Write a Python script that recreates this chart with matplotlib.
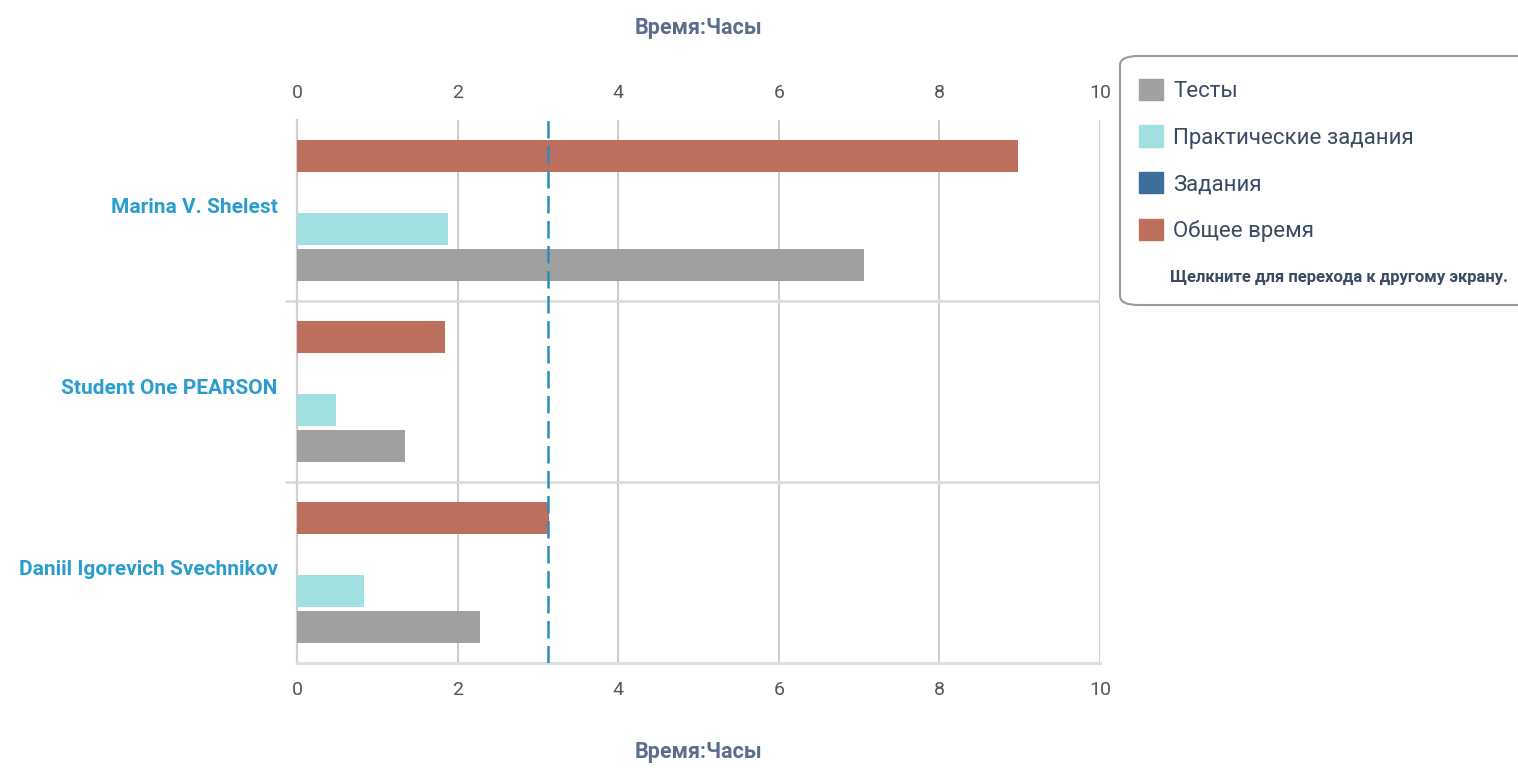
import matplotlib
matplotlib.use("Agg")
import matplotlib.pyplot as plt
import matplotlib.transforms as mtransforms
from matplotlib.patches import Patch, FancyBboxPatch
import numpy as np

plt.rcParams['font.family'] = ['Roboto', 'DejaVu Sans']

students = ["Marina V. Shelest", "Student One PEARSON", "Daniil Igorevich Svechnikov"]
series_names = ["Тесты", "Практические задания", "Задания", "Общее время"]
tests = [7.06, 1.35, 2.28]
practice = [1.88, 0.48, 0.83]
tasks = [0.0, 0.0, 0.0]
total = [8.98, 1.84, 3.14]
reference_line = 3.12
x_ticks = [0, 2, 4, 6, 8, 10]
axis_title = "Время:Часы"
note = "Щелкните для перехода к другому экрану."

colors = {"Тесты": "#a0a0a0", "Практические задания": "#a0e0e0",
          "Задания": "#3d6e99", "Общее время": "#bc6f5c"}
offsets = {"Общее время": -0.3, "Задания": -0.1, "Практические задания": 0.1, "Тесты": 0.3}
values = {"Тесты": tests, "Практические задания": practice, "Задания": tasks, "Общее время": total}

W, H = 1518, 768
fig = plt.figure(figsize=(W / 100, H / 100), dpi=100)
ax = fig.add_axes([297 / W, 1 - 663 / H, (1100 - 297) / W, (663 - 120) / H])

y = np.arange(len(students))
bar_h = 0.177
for name in series_names:
    ax.barh(y + offsets[name], values[name], height=bar_h, color=colors[name], zorder=3, label=name)

ax.axvline(reference_line, color="#2a8fb8", lw=1.8, linestyle=(0, (7, 3)), zorder=4)

ax.set_xlim(0, 10)
ax.set_ylim(2.5, -0.5)
ax.set_xticks(x_ticks)
ax.tick_params(axis='x', which='both', top=True, labeltop=True, bottom=True, labelbottom=True,
               length=0, pad=13, labelsize=14, labelcolor="#555555")
ax.grid(axis='x', color="#cccccc", lw=1.4, zorder=0)

ax.set_yticks(y)
ax.set_yticklabels(students, fontsize=15, fontweight='bold', color="#2b9dcc")
ax.tick_params(axis='y', which='major', length=0, pad=14)
shift = mtransforms.ScaledTranslation(0, 5 / 100, fig.dpi_scale_trans)
for lbl in ax.get_yticklabels():
    lbl.set_transform(lbl.get_transform() + shift)
ax.set_yticks([0.5, 1.5], minor=True)
ax.tick_params(axis='y', which='minor', length=9, width=2, color="#dddddd")
ax.grid(axis='y', which='minor', color="#dddddd", lw=2, zorder=1)

for s in ['top', 'right']:
    ax.spines[s].set_visible(False)
ax.spines['left'].set_color("#d0d0d0")
ax.spines['left'].set_linewidth(1.6)
ax.spines['bottom'].set_color("#dddddd")
ax.spines['bottom'].set_linewidth(2)

fig.text(698 / W, 1 - 28 / H, axis_title, ha='center', va='center', fontsize=15.5,
         fontweight='bold', color="#5a6e8c")
fig.text(698 / W, 1 - 752 / H, axis_title, ha='center', va='center', fontsize=15.5,
         fontweight='bold', color="#5a6e8c")

# legend frame
frame = FancyBboxPatch((1120 / W, 1 - 305 / H), (1560 - 1120) / W, (305 - 56) / H,
                       boxstyle="round,pad=0,rounding_size=0.012", transform=fig.transFigure,
                       facecolor="white", edgecolor="#999999", lw=1.5, zorder=5)
fig.patches.append(frame)

handles = [Patch(facecolor=colors[n], edgecolor=colors[n], label=n) for n in series_names]
leg = fig.legend(handles=handles, loc='upper left', bbox_to_anchor=(1130 / W, 1 - 70 / H),
                 frameon=False, fontsize=16, handlelength=1.1, handleheight=1.1,
                 handletextpad=0.45, labelspacing=1.05, borderaxespad=0)
for t in leg.get_texts():
    t.set_color("#3a4a63")
leg.set_zorder(6)

fig.text(1170 / W, 1 - 277 / H, note, ha='left', va='center', fontsize=12,
         fontweight='bold', color="#3a4a63", zorder=7)

fig.savefig("out.png", dpi=100)
